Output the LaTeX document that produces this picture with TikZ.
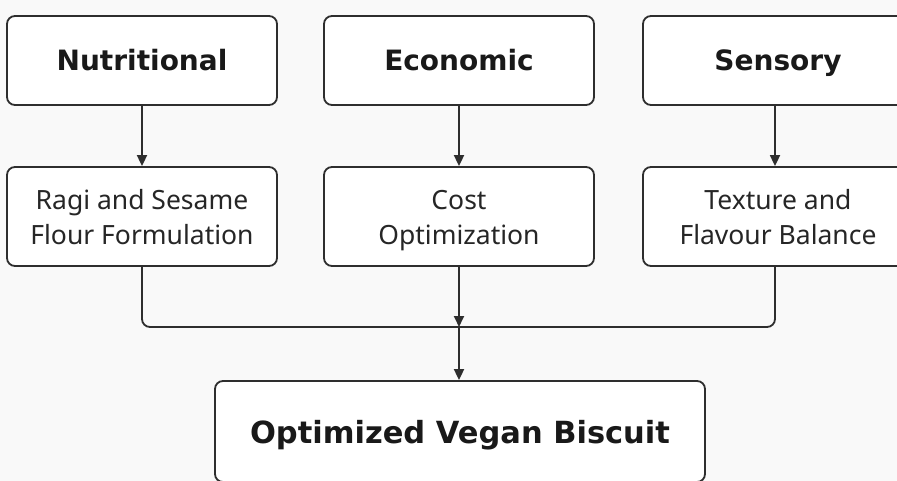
\documentclass[tikz,border=0pt]{standalone}
\usepackage{fontspec}
\setmainfont{Noto Sans}
\newfontfamily\headfont{DejaVu Sans}
\usepackage{tikz}
\usetikzlibrary{arrows.meta, positioning, calc}
\definecolor{linegray}{HTML}{2E2E2E}
\definecolor{bggray}{HTML}{F9F9F9}
\newcommand{\topstrut}{\rule{0pt}{32pt}}

\begin{document}
\begin{tikzpicture}[
    x=1pt, y=-1pt,
    headbox/.style={
        rectangle, draw=linegray, fill=white, line width=1.8pt,
        rounded corners=8pt, minimum width=270pt, minimum height=89pt,
        text centered, text height=21pt, text depth=0pt,
        font=\headfont\fontsize{28}{32}\selectfont\bfseries, text=black!90
    },
    subbox/.style={
        rectangle, draw=linegray, fill=white, line width=1.8pt,
        rounded corners=8pt, minimum width=270pt, minimum height=99pt,
        align=center, font=\fontsize{26.5}{35}\selectfont, text=black!85
    },
    arrow/.style={-{Triangle[length=11pt, width=10pt]}, line width=1.8pt, linegray}
]
    \fill[bggray] (0,0) rectangle (897,481);
    \useasboundingbox (0,0) rectangle (897,481);

    %% Criteria row
    \node[headbox] (nutri) at (142,60.5) {Nutritional};
    \node[headbox] (econ) at (459,60.5) {Economic};
    \node[headbox] (sens) at (778,60.5) {Sensory};

    %% Approach row
    \node[subbox] (ragi) at (142,216.5) {\topstrut Ragi and Sesame\\\strut Flour Formulation};
    \node[subbox] (cost) at (459,216.5) {\topstrut Cost\\\strut Optimization};
    \node[subbox] (texture) at (778,216.5) {\topstrut Texture and\\\strut Flavour Balance};

    %% Final product
    \node[headbox, minimum width=490pt, minimum height=101pt, text height=24pt,
          font=\headfont\fontsize{30.5}{36}\selectfont\bfseries] (biscuit) at (460,431.5) {Optimized Vegan Biscuit};

    \coordinate (bus) at (459,327);

    \draw[arrow] (nutri) -- (ragi);
    \draw[arrow] (econ) -- (cost);
    \draw[arrow] ($(sens.south)+(-3,0)$) -- ($(texture.north)+(-3,0)$);
    \draw[line width=1.8pt, linegray, rounded corners=8pt] (ragi.south) |- (bus);
    \draw[line width=1.8pt, linegray, rounded corners=8pt] ($(texture.south)+(-3,0)$) |- (bus);
    \draw[arrow] (cost) -- (bus);
    \draw[arrow] (bus) -- (bus |- biscuit.north);
\end{tikzpicture}
\end{document}
